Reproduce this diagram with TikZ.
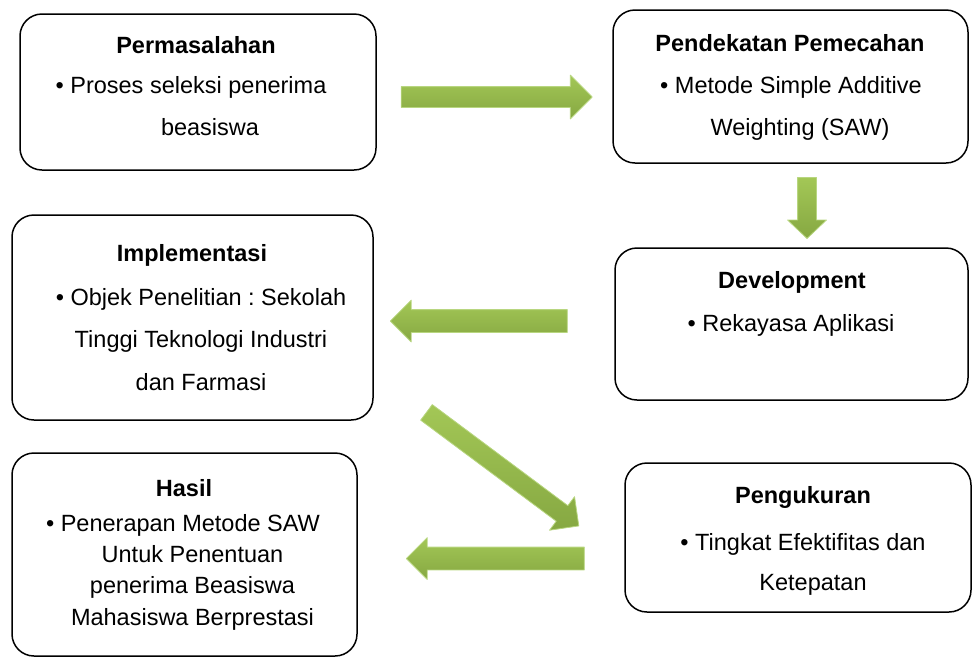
\documentclass[tikz,border=0pt]{standalone}
\usepackage{fontspec}
\setmainfont{Liberation Sans}
\frenchspacing
\usetikzlibrary{shapes.arrows}
\definecolor{hijauAtas}{RGB}{163,199,86}
\definecolor{hijauBawah}{RGB}{134,168,66}
\definecolor{tepiHijau}{RGB}{184,214,128}
\tikzset{
  kotak/.style={draw, line width=1.5pt, rounded corners=22pt, inner sep=0pt},
  judul/.style={anchor=base, inner sep=0pt, font=\fontsize{23.5}{28}\selectfont\bfseries},
  isi/.style={anchor=north, align=center, inner sep=0pt, font=\fontsize{23.5}{42}\selectfont},
  panah/.style={single arrow, draw=tepiHijau, line width=0.8pt, top color=hijauAtas, bottom color=hijauBawah,
    inner xsep=0pt, text height=0pt, text depth=0pt, minimum width=0pt, single arrow tip angle=90}
}
\begin{document}
\begin{tikzpicture}[x=1pt, y=-1pt, line join=round]
\useasboundingbox (0,0) rectangle (973,657);
% Kotak
\node[kotak, minimum width=356pt, minimum height=156pt] (masalah) at (198,92) {};
\node[kotak, minimum width=355pt, minimum height=153pt] (pendekatan) at (790.5,86.5) {};
\node[kotak, minimum width=361pt, minimum height=205pt] (implementasi) at (192.5,317.5) {};
\node[kotak, minimum width=353pt, minimum height=152pt] (development) at (791.5,324) {};
\node[kotak, minimum width=345pt, minimum height=203pt] (hasil) at (184.5,554.5) {};
\node[kotak, minimum width=346pt, minimum height=149pt] (pengukuran) at (798,537.5) {};
% Judul
\node[judul] (masalahJ) at (196,53) {Permasalahan};
\node[judul] (pendekatanJ) at (790,51) {Pendekatan Pemecahan};
\node[judul] (implementasiJ) at (192,261) {Implementasi};
\node[judul] (developmentJ) at (792,288) {Development};
\node[judul] (hasilJ) at (184,496) {Hasil};
\node[judul] (pengukuranJ) at (803,503) {Pengukuran};
% Isi
\node[isi] (masalahI) at (191,76) {\textbullet{} Proses seleksi penerima\\\hspace*{38pt}beasiswa};
\node[isi] (pendekatanI) at (791,76) {\textbullet{} Metode Simple Additive\\\hspace*{18pt}Weighting (SAW)};
\node[isi, font=\fontsize{23.5}{42.5}\selectfont] (implementasiI) at (201,288)
  {\textbullet{} Objek Penelitian : Sekolah\\Tinggi Teknologi Industri\\dan Farmasi};
\node[isi] (developmentI) at (791,314) {\textbullet{} Rekayasa Aplikasi};
\node[isi, font=\fontsize{23.5}{31.3}\selectfont] (hasilI) at (183,514)
  {\textbullet{} Penerapan Metode SAW\\\hspace*{19pt}Untuk Penentuan\\\hspace*{19pt}penerima Beasiswa\\\hspace*{19pt}Mahasiswa Berprestasi};
\node[isi, font=\fontsize{23.5}{40}\selectfont] (pengukuranI) at (803,533)
  {\textbullet{} Tingkat Efektifitas dan\\\hspace*{20pt}Ketepatan};
% Panah
\node[panah, minimum height=191pt, inner ysep=10pt, single arrow head extend=11.5pt] (p1) at (491.5,97) {};
\node[panah, rotate=-90, minimum height=61pt, inner ysep=9pt, single arrow head extend=10pt,
  single arrow tip angle=93] (p2) at (807,203.5) {};
\node[panah, rotate=180, minimum height=177pt, inner ysep=11pt, single arrow head extend=9.5pt] (p3) at (484.5,321) {};
\node[panah, rotate=-36.7, minimum height=190pt, inner ysep=9.3pt, single arrow head extend=11.2pt] (p4) at (498.75,466.25) {};
\node[panah, rotate=180, minimum height=178pt, inner ysep=11pt, single arrow head extend=9.5pt] (p5) at (501,558.5) {};
\end{tikzpicture}
\end{document}
